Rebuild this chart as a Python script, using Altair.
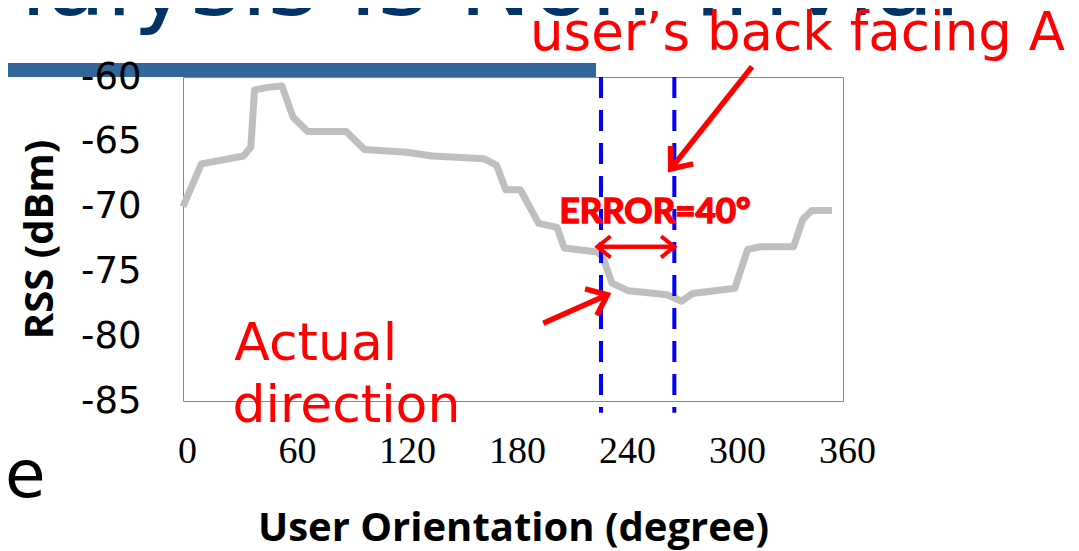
import altair as alt
import pandas as pd
import math

# ---- data ----
orientation = [0, 10, 33, 37, 39, 46, 54, 60, 68, 89, 99, 122, 136, 164, 171, 176, 184,
               194, 204, 208, 226, 229, 234, 243, 264, 272, 278, 301, 308, 315, 333, 338, 343, 354]
rss = [-70.0, -66.7, -66.1, -65.4, -61.0, -60.8, -60.7, -63.1, -64.2, -64.2, -65.6, -65.8,
       -66.1, -66.3, -66.8, -68.7, -68.7, -71.3, -71.6, -73.2, -73.5, -73.9, -75.9, -76.5,
       -76.8, -77.3, -76.7, -76.3, -73.3, -73.1, -73.1, -71.0, -70.3, -70.3]

x_ticks = [0, 60, 120, 180, 240, 300, 360]
y_ticks = [-85, -80, -75, -70, -65, -60]

marker_deg = [228, 268]          # dashed blue lines (actual / estimated)
marker_bottom = -85.9

# arrows: start -> tip (degree, dBm)
arrow_x = [196.5, 310.4, 226.0, 268.0]
arrow_y = [-79.0, -59.2, -73.1, -73.1]
arrow_tx = [231.5, 266.0, 268.0, 226.0]
arrow_ty = [-76.8, -67.1, -73.1, -73.1]
arrow_w = [5.5, 5.5, 4, 4]
head_size = [1300, 1300, 700, 700]

W, H = 660, 324
X_DOM, Y_DOM = [0, 360], [-85, -60]
pxx = W / (X_DOM[1] - X_DOM[0])
pxy = H / (Y_DOM[1] - Y_DOM[0])

curve = pd.DataFrame({"deg": orientation, "rss": rss})
markers = pd.DataFrame({"deg": marker_deg, "top": [-60] * 2, "bot": [marker_bottom] * 2})
arrows = pd.DataFrame({"x": arrow_x, "y": arrow_y, "x2": arrow_tx, "y2": arrow_ty,
                       "w": arrow_w, "s": head_size})
arrows["ang"] = [
    (math.degrees(math.atan2(-(ty - y) * pxy, (tx - x) * pxx)) + 360) % 360
    for x, y, tx, ty in zip(arrow_x, arrow_y, arrow_tx, arrow_ty)
]

x_scale = alt.Scale(domain=X_DOM, nice=False, zero=False)
y_scale = alt.Scale(domain=Y_DOM, nice=False, zero=False)

one = pd.DataFrame({"k": [0]})

# slide decorations
bar = alt.Chart(one).mark_rect(color="#336699").encode(
    x=alt.value(-190), x2=alt.value(413), y=alt.value(-14), y2=alt.value(0))
title = alt.Chart(one).mark_text(
    text="Analysis Is Non-Trivial", font="DejaVu Sans", fontSize=97, color="#003366",
    align="right", baseline="alphabetic").encode(x=alt.value(778), y=alt.value(-62))
bullet = alt.Chart(one).mark_text(
    text="e", font="DejaVu Sans", fontSize=66, color="black", angle=0,
    align="left", baseline="alphabetic").encode(x=alt.value(-178), y=alt.value(420))
back_label = alt.Chart(one).mark_text(
    text="user\u2019s back facing A", font="DejaVu Sans", fontSize=53, color="#ff0000",
    align="left", baseline="alphabetic").encode(x=alt.value(347), y=alt.value(-27))

line = alt.Chart(curve).mark_line(color="#bfbfbf", strokeWidth=7, strokeJoin="round").encode(
    x=alt.X("deg:Q", scale=x_scale, axis=alt.Axis(
        values=x_ticks, title="User Orientation (degree)", grid=False, ticks=False,
        domain=False, labelFlush=False, labelFont="Liberation Serif", labelFontSize=38,
        labelColor="black", labelPadding=31, labelOffset=4, titleFont="Open Sans",
        titleFontWeight="bold", titleFontSize=40, titleColor="black",
        titleBaseline="alphabetic", titleY=139)),
    y=alt.Y("rss:Q", scale=y_scale, axis=alt.Axis(
        values=y_ticks, title="RSS (dBm)", grid=False, ticks=False, domain=False,
        labelFlush=False, labelExpr="replace(datum.label, '\u2212', '-')",
        labelFont="DejaVu Sans", labelFontSize=37, labelColor="black", labelPadding=42,
        titleFont="Open Sans", titleFontWeight="bold", titleFontSize=40,
        titleColor="black", titleBaseline="alphabetic", titleX=-131, zindex=1)),
)

dashes = alt.Chart(markers).mark_rule(color="#0000ff", strokeWidth=4, strokeDash=[21, 12]).encode(
    x=alt.X("deg:Q", scale=x_scale), y=alt.Y("top:Q", scale=y_scale), y2="bot:Q")

shafts = alt.Chart(arrows).mark_rule(color="#ff0000").encode(
    x=alt.X("x:Q", scale=x_scale), y=alt.Y("y:Q", scale=y_scale), x2="x2:Q", y2="y2:Q",
    strokeWidth=alt.StrokeWidth("w:Q", scale=None))
heads = alt.Chart(arrows).mark_point(
    shape="M -1 -0.8 L 0 0 L -1 0.8", filled=False, color="#ff0000", opacity=1,
    strokeJoin="miter").encode(
    x=alt.X("x2:Q", scale=x_scale), y=alt.Y("y2:Q", scale=y_scale),
    angle=alt.Angle("ang:Q", scale=None),
    size=alt.Size("s:Q", scale=None),
    strokeWidth=alt.StrokeWidth("w:Q", scale=None))

notes = pd.DataFrame({
    "deg": [28.0, 27.0], "rss": [-81.84, -86.6], "txt": ["Actual", "direction"]})
note_text = alt.Chart(notes).mark_text(
    font="DejaVu Sans", fontSize=52, color="#ff0000", align="left", baseline="alphabetic").encode(
    x=alt.X("deg:Q", scale=x_scale), y=alt.Y("rss:Q", scale=y_scale), text="txt:N")

err = pd.DataFrame({"deg": [257.5], "rss": [-71.27], "txt": ["ERROR=40\u00b0"]})
err_text = alt.Chart(err).mark_text(
    font="Lato", fontWeight="bold", fontSize=35, color="#ff0000", stroke="#ff0000",
    strokeWidth=1.5, align="center", baseline="alphabetic").encode(
    x=alt.X("deg:Q", scale=x_scale), y=alt.Y("rss:Q", scale=y_scale), text="txt:N")

chart = alt.layer(
    bar, title, bullet, line, dashes, shafts, heads, note_text, err_text, back_label
).properties(
    width=W, height=H,
    autosize=alt.AutoSizeParams(type="none"),
    padding={"left": 175, "top": 69, "right": 228, "bottom": 150},
    background="white",
).configure_view(stroke="#888888", strokeWidth=1)

chart.save("out.html", embed_options={"renderer": "svg", "actions": False})
